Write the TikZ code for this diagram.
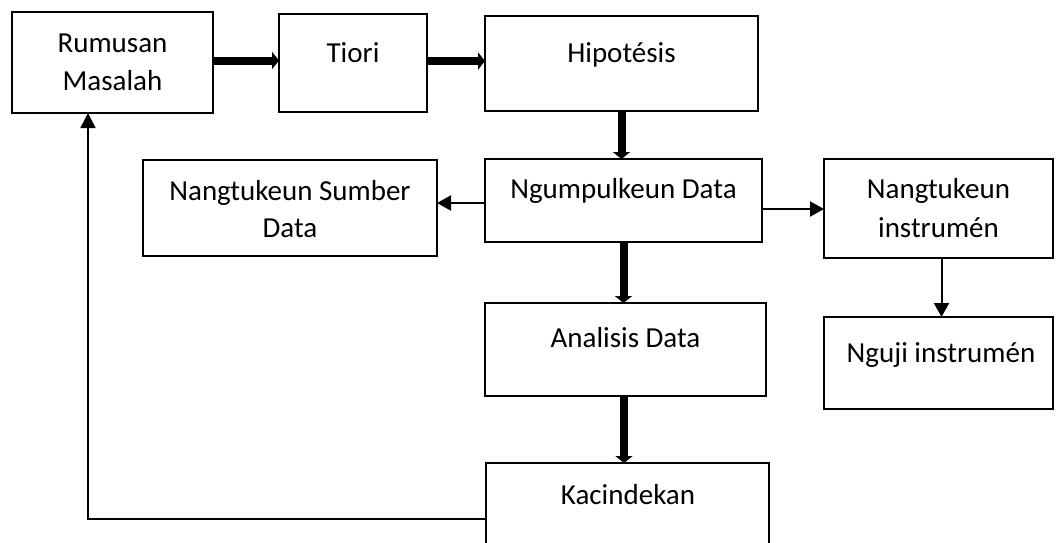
\documentclass[tikz,border=0pt]{standalone}
\usepackage{fontspec}
\setmainfont{Carlito}
\usetikzlibrary{arrows.meta}
\begin{document}
\begin{tikzpicture}[x=1pt,y=-1pt,
  box/.style={draw, line width=2.5pt, inner sep=0pt, outer sep=0pt},
  lbl/.style={anchor=base, inner sep=0pt, outer sep=0pt, font=\fontsize{29}{35}\selectfont},
  thickarr/.style={line width=8pt, -{Triangle[width=17pt,length=7pt]}},
  thinarr/.style={line width=2pt, -{Triangle[width=15pt,length=14pt]}},
  fbarr/.style={line width=1.5pt, -{Triangle[width=15pt,length=15pt]}}]
\clip (0,0) rectangle (1056,542);
\fill[white] (0,0) rectangle (1056,542);
% boxes
\node[box, minimum width=201pt, minimum height=101pt] (rm) at (112.5,62.5) {};
\node[box, minimum width=148pt, minimum height=98pt] (ti) at (353,63) {};
\node[box, minimum width=273pt, minimum height=95pt] (hi) at (621.5,63.5) {};
\node[box, minimum width=294pt, minimum height=96pt] (su) at (290,208) {};
\node[box, minimum width=277pt, minimum height=83pt] (ng) at (623.5,200.5) {};
\node[box, minimum width=229pt, minimum height=99pt] (ni) at (938.5,208.5) {};
\node[box, minimum width=281pt, minimum height=93pt] (an) at (625.5,349.5) {};
\node[box, minimum width=229pt, minimum height=92pt] (nu) at (938.5,363) {};
\node[box, minimum width=283pt, minimum height=112pt] (ka) at (627.5,519) {};
% texts
\node[lbl] (rm1) at (112.5,52) {Rumusan};
\node[lbl] (rm2) at (112.5,90) {Masalah};
\node[lbl] (ti1) at (353,62) {Tiori};
\node[lbl] (hi1) at (621.5,62) {Hipotésis};
\node[lbl] (su1) at (290,200) {Nangtukeun Sumber};
\node[lbl] (su2) at (290,237) {Data};
\node[lbl] (ng1) at (623.5,198) {Ngumpulkeun Data};
\node[lbl] (ni1) at (938.5,198) {Nangtukeun};
\node[lbl] (ni2) at (938.5,237) {instrumén};
\node[lbl] (an1) at (625.5,347) {Analisis Data};
\node[lbl] (nu1) at (941,362) {Nguji instrumén};
\node[lbl] (ka1) at (628,504) {Kacindekan};
% connectors
\draw[thickarr] ([yshift=2pt]rm.east) -- ([yshift=2pt]rm.east -| ti.west);
\draw[thickarr] ([yshift=2pt]ti.east) -- ([yshift=2pt]ti.east -| hi.west);
\draw[thickarr] (hi.south) -- (hi.south |- ng.north);
\draw[thinarr] ([yshift=-2.5pt]ng.west) -- ([yshift=-2.5pt]ng.west -| su.east);
\draw[thinarr] ([yshift=-8.5pt]ng.east) -- ([yshift=-8.5pt]ng.east -| ni.west);
\draw[thickarr] (ng.south) -- (ng.south |- an.north);
\draw[thinarr] ([xshift=3pt]ni.south) -- ([xshift=3pt]ni.south |- nu.north);
\draw[thickarr] ([xshift=-1.5pt]an.south) -- ([xshift=-1.5pt]an.south |- ka.north);
\coordinate (fb) at (88,519);
\draw[fbarr] (ka.west) -- (fb) -- (fb |- rm.south);
\end{tikzpicture}
\end{document}
